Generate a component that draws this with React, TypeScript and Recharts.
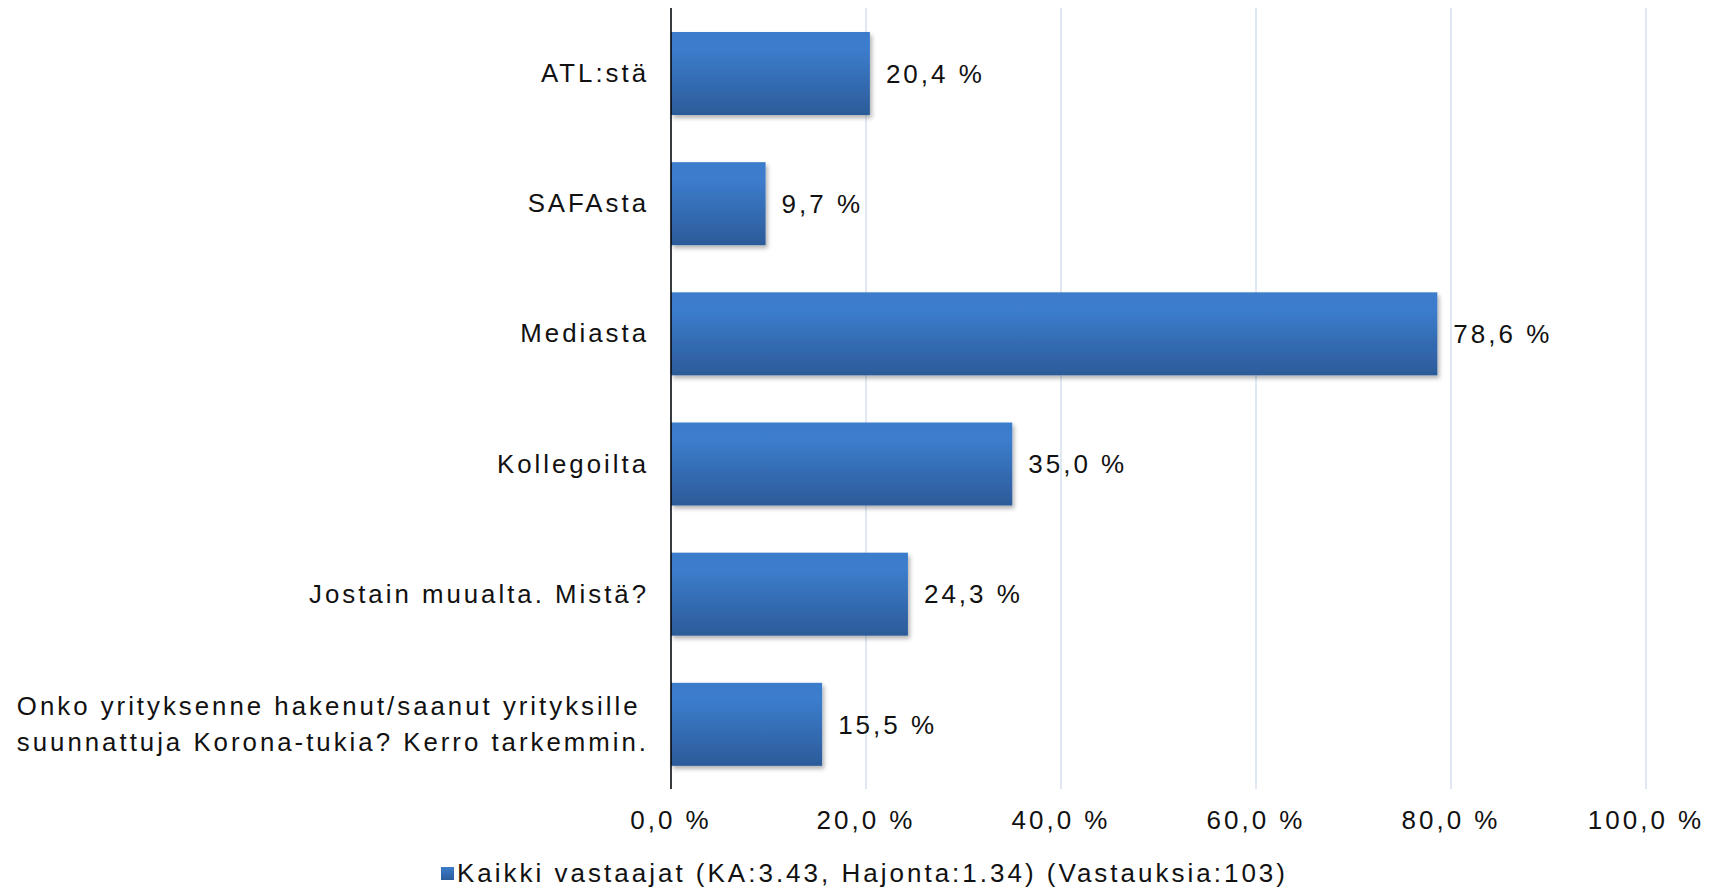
import { useLayoutEffect, useRef, useState } from 'react';
import { BarChart, Bar, XAxis, YAxis, CartesianGrid, LabelList, Legend } from 'recharts';

const categories = [
  'ATL:stä',
  'SAFAsta',
  'Mediasta',
  'Kollegoilta',
  'Jostain muualta. Mistä?',
  'Onko yrityksenne hakenut/saanut yrityksille\nsuunnattuja Korona-tukia? Kerro tarkemmin.',
];
const values = [20.4, 9.7, 78.6, 35.0, 24.3, 15.5];
const xTicks = [0, 20, 40, 60, 80, 100];
const seriesName = 'Kaikki vastaajat (KA:3.43, Hajonta:1.34) (Vastauksia:103)';

const data = categories.map((name, i) => ({ name, value: values[i] }));

const FONT = '"Liberation Sans", Arial, sans-serif';
const textStyle = { fontFamily: FONT, fontSize: 26, letterSpacing: 3, fill: '#111' };
const catStyle = { ...textStyle, fontSize: 25.8 };

const pct = (v: number) => `${v.toFixed(1).replace('.', ',')} %`;

// multi-line labels are left aligned as a block that ends at the tick position
function CategoryTick({ x, y, payload }: any) {
  const lines = String(payload.value).split('\n');
  const ref = useRef<SVGTextElement>(null);
  const [w, setW] = useState(0);
  useLayoutEffect(() => {
    if (lines.length > 1 && ref.current) {
      const spans = Array.from(ref.current.querySelectorAll('tspan')) as SVGTSpanElement[];
      setW(Math.max(...spans.map((s) => s.getComputedTextLength())));
    }
  }, [payload.value]);
  const lh = 36;
  const start = y - ((lines.length - 1) * lh) / 2;
  const multi = lines.length > 1;
  const tx = multi && w ? x - w : x;
  return (
    <text
      ref={ref}
      x={tx}
      y={start}
      textAnchor={multi && w ? 'start' : 'end'}
      dominantBaseline="central"
      style={catStyle}
    >
      {lines.map((l, i) => (
        <tspan key={i} x={tx} y={start + i * lh}>
          {l}
        </tspan>
      ))}
    </text>
  );
}

function BarShape({ x, y, width, height }: any) {
  return <rect x={x} y={y} width={width} height={height} fill="url(#barGrad)" filter="url(#barShadow)" />;
}

function LegendContent() {
  return (
    <div
      style={{
        height: 43,
        paddingTop: 10,
        paddingLeft: 10,
        boxSizing: 'border-box',
        display: 'flex',
        alignItems: 'center',
        justifyContent: 'center',
        fontFamily: FONT,
        fontSize: 26,
        letterSpacing: 3,
        color: '#111',
      }}
    >
      <span
        style={{
          display: 'inline-block',
          width: 13,
          height: 13,
          marginRight: 3,
          background: 'linear-gradient(#3c7dcc, #2c5b99)',
        }}
      />
      <span>{seriesName}</span>
    </div>
  );
}

export default function App() {
  return (
    <div style={{ position: 'absolute', left: 0, top: 0, background: '#fff' }}>
      <BarChart
        width={1719}
        height={890}
        data={data}
        layout="vertical"
        margin={{ top: 8, right: 73, left: 0, bottom: 0 }}
      >
        <defs>
          <linearGradient id="barGrad" x1="0" y1="0" x2="0" y2="1">
            <stop offset="0" stopColor="#3b7bcb" />
            <stop offset="0.2" stopColor="#3c7dcd" />
            <stop offset="1" stopColor="#2c5b99" />
          </linearGradient>
          <filter id="barShadow" x="-5%" y="-10%" width="115%" height="130%">
            <feDropShadow dx="2" dy="3" stdDeviation="2" floodColor="#000" floodOpacity="0.3" />
          </filter>
        </defs>
        <CartesianGrid horizontal={false} stroke="#d6e2ef" strokeWidth={1.5} />
        <XAxis
          type="number"
          domain={[0, 100]}
          ticks={xTicks}
          tickFormatter={pct}
          axisLine={false}
          tickLine={false}
          tickSize={0}
          tickMargin={22}
          height={58}
          tick={textStyle}
          interval={0}
        />
        <YAxis
          type="category"
          dataKey="name"
          width={671}
          axisLine={{ stroke: '#000', strokeWidth: 1.5 }}
          tickLine={false}
          tickSize={0}
          tickMargin={22}
          tick={<CategoryTick />}
          interval={0}
        />
        <Legend
          verticalAlign="bottom"
          content={<LegendContent />}
          wrapperStyle={{ left: 0, width: 1719, height: 43 }}
        />
        <Bar dataKey="value" name={seriesName} barSize={83} shape={<BarShape />} isAnimationActive={false}>
          <LabelList dataKey="value" position="right" offset={16} formatter={(v: any) => pct(Number(v))} style={textStyle} />
        </Bar>
      </BarChart>
    </div>
  );
}
